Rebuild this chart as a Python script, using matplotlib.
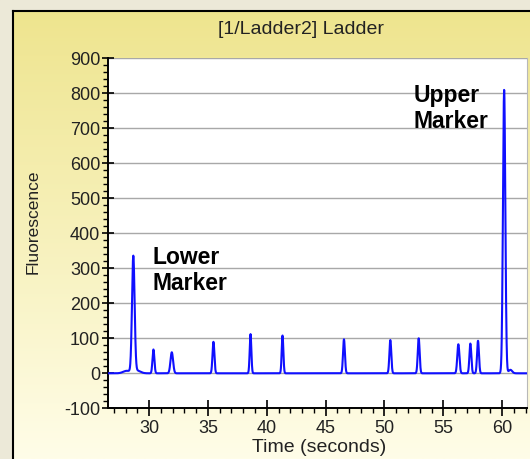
import numpy as np
import matplotlib
matplotlib.use("Agg")
import matplotlib.pyplot as plt
from matplotlib.ticker import MultipleLocator
from matplotlib.patches import Rectangle
from matplotlib.lines import Line2D

plt.rcParams["axes.unicode_minus"] = False

# peaks (time s, height, width s)
peak_time = [28.10, 28.66, 28.95, 30.37, 31.93, 35.47, 38.62, 41.34, 46.56,
             50.50, 52.91, 56.28, 57.30, 57.95, 60.17, 60.70]
peak_height = [7, 330, 8, 68, 60, 90, 112, 108, 97, 95, 100, 83, 85, 93, 810, 10]
peak_width = [0.30, 0.11, 0.30, 0.08, 0.11, 0.08, 0.07, 0.07, 0.08,
              0.08, 0.08, 0.09, 0.08, 0.08, 0.10, 0.15]

title = "[1/Ladder2] Ladder"
xlab = "Time (seconds)"
ylab = "Fluorescence"
x_range = (26.51, 62.07)
y_range = (-100, 900)

W, H = 530, 459
fig = plt.figure(figsize=(W / 100, H / 100), dpi=100)

# yellow gradient window background
bg = fig.add_axes([0, 0, 1, 1], zorder=-10)
top_c = np.array([238, 228, 140]) / 255
bot_c = np.array([255, 253, 232]) / 255
g = np.linspace(0, 1, 256)[:, None]
grad = top_c[None, :] * (1 - g) + bot_c[None, :] * g
bg.imshow(grad[:, None, :], aspect="auto", extent=[0, 1, 0, 1])
bg.set_xlim(0, 1)
bg.set_ylim(0, 1)
bg.axis("off")

# grey frame strip and dark border
fig.patches.append(Rectangle((0, 0), 12 / W, 1, transform=fig.transFigure,
                             color="#ece9d8", zorder=-5))
fig.patches.append(Rectangle((0, 1 - 10 / H), 1, 10 / H, transform=fig.transFigure,
                             color="#ece9d8", zorder=-5))
fig.lines.append(Line2D([12.5 / W, 12.5 / W], [0, 1 - 10.5 / H], transform=fig.transFigure,
                        color="black", lw=1.5))
fig.lines.append(Line2D([12.5 / W, 1], [1 - 10.5 / H, 1 - 10.5 / H], transform=fig.transFigure,
                        color="black", lw=1.5))

ax = fig.add_axes([108 / W, 1 - 408.3 / H, (526.5 - 108) / W, (408.3 - 58.3) / H])
ax.set_facecolor("white")

t = np.linspace(x_range[0], x_range[1], 4000)
y = np.zeros_like(t)
for c, h, w in zip(peak_time, peak_height, peak_width):
    y += h * np.exp(-0.5 * ((t - c) / w) ** 2)
ax.plot(t, y, color="#1010ff", lw=1.5, zorder=3)

ax.set_xlim(*x_range)
ax.set_ylim(*y_range)
ax.xaxis.set_major_locator(MultipleLocator(5))
ax.xaxis.set_minor_locator(MultipleLocator(1))
ax.yaxis.set_major_locator(MultipleLocator(100))
ax.yaxis.set_minor_locator(MultipleLocator(20))
ax.grid(axis="y", which="major", color="#a8a8a8", lw=1)
ax.set_axisbelow(True)

ax.tick_params(axis="x", which="major", direction="inout", length=11, width=1.2,
               labelsize=13, pad=3)
ax.tick_params(axis="y", which="major", direction="inout", length=9, width=1.2,
               labelsize=13, pad=1)
ax.tick_params(which="minor", direction="out", length=3.5, width=1)
for lab in ax.get_xticklabels() + ax.get_yticklabels():
    lab.set_family("Liberation Sans")
    lab.set_color("#222222")

ax.spines["top"].set_visible(False)
ax.spines["right"].set_color("#b8b8b8")
ax.spines["left"].set_linewidth(1.4)
ax.spines["bottom"].set_linewidth(1.4)

ax.text(30.26, 364, "Lower\nMarker", fontsize=16.5, fontweight="bold",
        family="Liberation Sans", va="top", ha="left", linespacing=1.15)
ax.text(52.45, 827, "Upper\nMarker", fontsize=16.5, fontweight="bold",
        family="Liberation Sans", va="top", ha="left", linespacing=1.15)

fig.text(301 / W, 1 - 29 / H, title, fontsize=14, family="Liberation Sans",
         ha="center", va="center", color="#222222")
fig.text(319 / W, 1 - 447 / H, xlab, fontsize=14, family="Liberation Sans",
         ha="center", va="center", color="#222222")
fig.text(33 / W, 1 - 222 / H, ylab, fontsize=12.5, family="Liberation Sans",
         ha="center", va="center", rotation=90, color="#222222")

fig.savefig("out.png", dpi=100)
